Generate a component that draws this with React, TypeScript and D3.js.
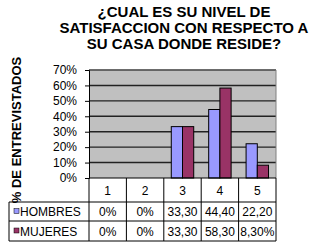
import React, { useRef, useEffect } from "react";
import * as d3 from "d3";

const titleLines = ["¿CUAL ES SU NIVEL DE", "SATISFACCION CON RESPECTO A", "SU CASA DONDE RESIDE?"];
const yLabel = "% DE ENTREVISTADOS";
const categories = ["1", "2", "3", "4", "5"];
const seriesNames = ["HOMBRES", "MUJERES"];
const hombres = [0, 0, 33.3, 44.4, 22.2];
const mujeres = [0, 0, 33.3, 58.3, 8.3];
const hombresLabels = ["0%", "0%", "33,30", "44,40", "22,20"];
const mujeresLabels = ["0%", "0%", "33,30", "58,30", "8,30%"];
const yTicks = [0, 10, 20, 30, 40, 50, 60, 70];

const colors = ["#9999FF", "#993366"];
const font = "Arial, 'Liberation Sans', sans-serif";

const App = () => {
  const ref = useRef<SVGSVGElement>(null);

  useEffect(() => {
    const svg = d3.select(ref.current);
    svg.selectAll("*").remove();

    const left = 89;
    const right = 276;
    const top = 70;
    const bottom = 178;
    const rows = [178, 202, 221, 241];
    const tableLeft = 9;

    const x = d3.scaleBand().domain(categories).range([left, right]).padding(0);
    const inner = d3
      .scaleBand()
      .domain(seriesNames)
      .range([x.bandwidth() * 0.2, x.bandwidth() * 0.8]);
    const y = d3.scaleLinear().domain([0, 70]).range([bottom, top]);

    // titre
    svg
      .append("text")
      .attr("font-family", font)
      .attr("font-weight", "bold")
      .attr("font-size", 15)
      .attr("text-anchor", "middle")
      .selectAll("tspan")
      .data(titleLines)
      .enter()
      .append("tspan")
      .attr("x", 184)
      .attr("y", (d, i) => 17 + i * 16)
      .text((d) => d);

    // axe y label
    svg
      .append("text")
      .attr("transform", "translate(21,130) rotate(-90)")
      .attr("font-family", font)
      .attr("font-weight", "bold")
      .attr("font-size", 13)
      .attr("text-anchor", "middle")
      .text(yLabel);

    // fond
    svg
      .append("rect")
      .attr("x", left)
      .attr("y", top)
      .attr("width", right - left)
      .attr("height", bottom - top)
      .attr("fill", "#C0C0C0");

    // grille
    svg
      .append("g")
      .selectAll("line")
      .data(yTicks.slice(1))
      .enter()
      .append("line")
      .attr("x1", left)
      .attr("x2", right)
      .attr("y1", (d) => y(d))
      .attr("y2", (d) => y(d))
      .attr("stroke", "#222")
      .attr("stroke-width", 1.4);

    svg
      .append("path")
      .attr("d", `M${left},${top}H${right}V${bottom}`)
      .attr("fill", "none")
      .attr("stroke", "#808080")
      .attr("stroke-width", 1);

    // barres
    const series = [hombres, mujeres];
    series.forEach((vals, si) => {
      svg
        .append("g")
        .selectAll("rect")
        .data(categories.map((c, i) => ({ c, v: vals[i] })).filter((d) => d.v > 0))
        .enter()
        .append("rect")
        .attr("x", (d) => (x(d.c) as number) + (inner(seriesNames[si]) as number))
        .attr("y", (d) => y(d.v))
        .attr("width", inner.bandwidth())
        .attr("height", (d) => bottom - y(d.v))
        .attr("fill", colors[si])
        .attr("stroke", "#000")
        .attr("stroke-width", 1);
    });

    // axe y
    const yAxis = d3.axisLeft(y).tickValues(yTicks).tickSize(4).tickFormat((d) => `${d}%`);
    const gy = svg.append("g").attr("transform", `translate(${left},0)`).call(yAxis);
    gy.select(".domain").attr("stroke", "#000");
    gy.selectAll("text")
      .attr("font-family", font)
      .attr("font-size", 12)
      .attr("fill", "#000")
      .attr("x", -12);

    // tableau
    const t = svg.append("g").attr("stroke", "#000").attr("stroke-width", 1);
    t.append("line").attr("x1", left).attr("x2", right).attr("y1", rows[0]).attr("y2", rows[0]);
    rows.slice(1).forEach((r) => {
      t.append("line").attr("x1", tableLeft).attr("x2", right).attr("y1", r).attr("y2", r);
    });
    t.append("line").attr("x1", tableLeft).attr("x2", tableLeft).attr("y1", rows[1]).attr("y2", rows[3]);
    [...categories.map((c) => x(c) as number), right].forEach((cx) => {
      t.append("line").attr("x1", cx).attr("x2", cx).attr("y1", rows[0]).attr("y2", rows[3]);
    });

    const cellText = (labels: string[], rowTop: number, rowBottom: number) => {
      svg
        .append("g")
        .selectAll("text")
        .data(labels)
        .enter()
        .append("text")
        .attr("x", (d, i) => (x(categories[i]) as number) + x.bandwidth() / 2)
        .attr("y", (rowTop + rowBottom) / 2 + 4.5)
        .attr("text-anchor", "middle")
        .attr("font-family", font)
        .attr("font-size", 12)
        .text((d) => d);
    };
    cellText(categories, rows[0], rows[1]);
    cellText(hombresLabels, rows[1], rows[2]);
    cellText(mujeresLabels, rows[2], rows[3]);

    // légende
    seriesNames.forEach((name, i) => {
      const mid = (rows[i + 1] + rows[i + 2]) / 2;
      svg
        .append("rect")
        .attr("x", 14)
        .attr("y", mid - 3)
        .attr("width", 5)
        .attr("height", 5)
        .attr("fill", colors[i])
        .attr("stroke", "#000")
        .attr("stroke-width", 0.5);
      svg
        .append("text")
        .attr("x", 20)
        .attr("y", mid + 4.5)
        .attr("font-family", font)
        .attr("font-size", 12)
        .text(name);
    });
  }, []);

  return (
    <svg
      ref={ref}
      width={316}
      height={243}
      style={{ position: "absolute", left: 0, top: 0, background: "#fff" }}
    />
  );
};

export default App;
